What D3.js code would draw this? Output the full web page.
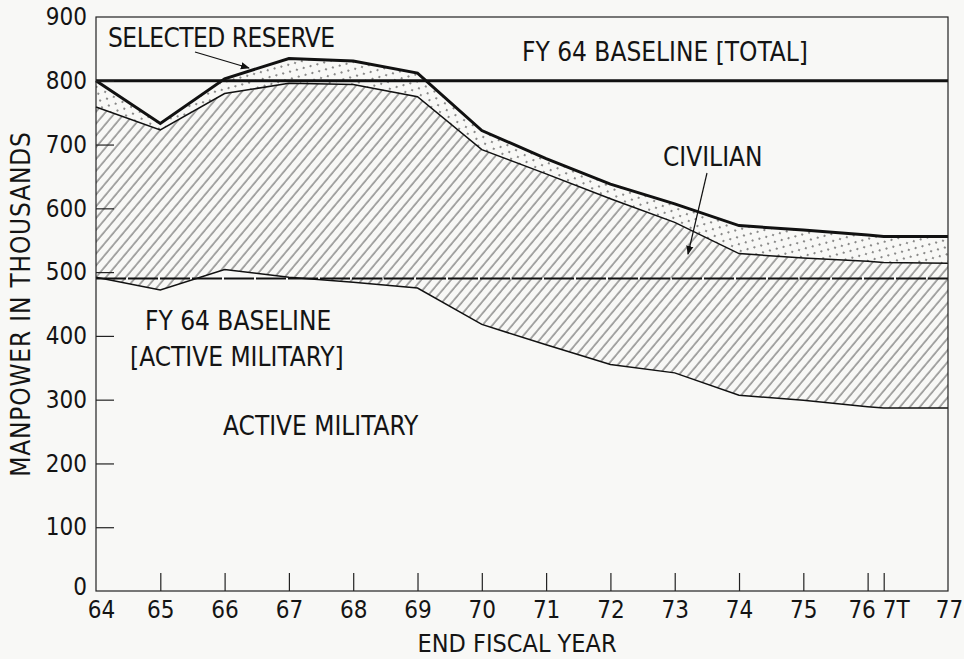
<!DOCTYPE html>
<html>
<head>
    <title>Manpower in Thousands, FY 64 - FY 77</title>
    <script src="https://d3js.org/d3.v7.min.js"></script>
    <style>
        body { margin: 0; background: #f8f8f6; }
        svg text {
            font-family: "DejaVu Sans Condensed", "DejaVu Sans", sans-serif;
            font-stretch: condensed;
            fill: #141414;
        }
        .axis text { font-size: 24px; }
        .axis line { stroke: #222; stroke-width: 1.2; }
        .note { font-size: 26px; }
    </style>
</head>
<body>
    <div id="chart"></div>
    <script>
        // end fiscal year positions (7T = transition quarter)
        var yearPos = [64, 65, 66, 67, 68, 69, 70, 71, 72, 73, 74, 75, 76, 76.25, 77.25];
        var yearLabels = ["64", "65", "66", "67", "68", "69", "70", "71", "72", "73", "74", "75", "76", "7T", "77"];

        // thousands
        var totalManpower = [800, 733, 803, 835, 831, 812, 722, 678, 638, 607, 573, 566, 558, 556, 556];
        var activePlusCivilian = [759, 723, 780, 796, 794, 775, 692, 654, 615, 578, 529, 522, 517, 515, 514];
        var activeMilitary = [492, 472, 504, 492, 484, 475, 418, 386, 355, 342, 307, 299, 289, 287, 287];

        var baselineTotal = 800;
        var baselineActive = 490;
        var yTicks = [0, 100, 200, 300, 400, 500, 600, 700, 800, 900];

        var width = 964, height = 659;

        var svg = d3.select("#chart").append("svg")
            .attr("width", width)
            .attr("height", height);

        var x = d3.scaleLinear().domain([64, 77.25]).range([96, 948]);
        var y = d3.scaleLinear().domain([0, 900]).range([591, 17]);

        var rows = yearPos.map(function(p, i) {
            return { x: p, total: totalManpower[i], civ: activePlusCivilian[i], act: activeMilitary[i] };
        });

        var defs = svg.append("defs");

        // diagonal hatch for civilian
        var hatch = defs.append("pattern")
            .attr("id", "hatch")
            .attr("patternUnits", "userSpaceOnUse")
            .attr("width", 7.6)
            .attr("height", 10)
            .attr("patternTransform", "rotate(40)");
        hatch.append("line")
            .attr("x1", 1).attr("y1", 0)
            .attr("x2", 1).attr("y2", 10)
            .attr("stroke", "#333")
            .attr("stroke-width", 0.85);

        // stipple for selected reserve
        var dots = defs.append("pattern")
            .attr("id", "dots")
            .attr("patternUnits", "userSpaceOnUse")
            .attr("width", 10)
            .attr("height", 10)
            .attr("patternTransform", "rotate(30)");
        dots.append("circle").attr("cx", 2).attr("cy", 2).attr("r", 0.9).attr("fill", "#555");
        dots.append("circle").attr("cx", 7).attr("cy", 7).attr("r", 0.9).attr("fill", "#555");

        defs.append("marker")
            .attr("id", "arrow")
            .attr("viewBox", "0 0 10 10")
            .attr("refX", 9).attr("refY", 5)
            .attr("markerWidth", 9).attr("markerHeight", 9)
            .attr("markerUnits", "userSpaceOnUse")
            .attr("orient", "auto")
            .append("path")
            .attr("d", "M0,1 L10,5 L0,9 Z")
            .attr("fill", "#111");

        // areas
        svg.append("path")
            .datum(rows)
            .attr("fill", "url(#dots)")
            .attr("d", d3.area()
                .x(function(d) { return x(d.x); })
                .y0(function(d) { return y(d.civ); })
                .y1(function(d) { return y(d.total); }));

        svg.append("path")
            .datum(rows)
            .attr("fill", "url(#hatch)")
            .attr("d", d3.area()
                .x(function(d) { return x(d.x); })
                .y0(function(d) { return y(d.act); })
                .y1(function(d) { return y(d.civ); }));

        // baselines
        svg.append("line")
            .attr("x1", x(64)).attr("x2", x(77.25))
            .attr("y1", y(baselineTotal)).attr("y2", y(baselineTotal))
            .attr("stroke", "#111").attr("stroke-width", 3);

        svg.append("line")
            .attr("x1", x(64)).attr("x2", x(77.25))
            .attr("y1", y(baselineActive)).attr("y2", y(baselineActive))
            .attr("stroke", "#111").attr("stroke-width", 2.2)
            .attr("stroke-dasharray", "30,2");

        // boundary lines
        function line(key) {
            return d3.line()
                .x(function(d) { return x(d.x); })
                .y(function(d) { return y(d[key]); });
        }

        svg.append("path").datum(rows)
            .attr("fill", "none").attr("stroke", "#111").attr("stroke-width", 3)
            .attr("d", line("total"));

        svg.append("path").datum(rows)
            .attr("fill", "none").attr("stroke", "#111").attr("stroke-width", 1.5)
            .attr("d", line("civ"));

        svg.append("path").datum(rows)
            .attr("fill", "none").attr("stroke", "#111").attr("stroke-width", 1.5)
            .attr("d", line("act"));

        // frame
        svg.append("rect")
            .attr("x", x(64)).attr("y", y(900))
            .attr("width", x(77.25) - x(64))
            .attr("height", y(0) - y(900))
            .attr("fill", "none")
            .attr("stroke", "#222")
            .attr("stroke-width", 1.2);

        // axes
        var yAxis = svg.append("g")
            .attr("class", "axis")
            .attr("transform", "translate(" + x(64) + ",0)")
            .call(d3.axisLeft(y).tickValues(yTicks).tickSizeInner(-18).tickSizeOuter(0).tickPadding(9));
        yAxis.select(".domain").remove();
        yAxis.selectAll(".tick line").filter(function(d) { return d === 0 || d === 900; }).remove();
        yAxis.selectAll(".tick text").filter(function(d) { return d === 0; }).attr("y", -4);

        var xAxis = svg.append("g")
            .attr("class", "axis")
            .attr("transform", "translate(0," + y(0) + ")")
            .call(d3.axisBottom(x).tickValues(yearPos).tickSizeInner(-18).tickSizeOuter(0).tickPadding(10)
                .tickFormat(function(d, i) { return yearLabels[i]; }));
        xAxis.select(".domain").remove();
        xAxis.selectAll(".tick line").filter(function(d) { return d === 64 || d === 77.25; }).remove();
        // labels crowded near the transition quarter and the corner
        var labelShift = { 64: 5, 76: -6, 76.25: 12, 77.25: 1 };
        xAxis.selectAll(".tick text")
            .attr("x", function(d) { return labelShift[d] || 0; });

        // axis titles
        svg.append("text")
            .attr("class", "note")
            .attr("x", 517).attr("y", 652)
            .attr("text-anchor", "middle")
            .style("font-size", "25px")
            .text("END FISCAL YEAR");

        svg.append("text")
            .attr("class", "note")
            .attr("transform", "translate(30,304) rotate(-90)")
            .attr("text-anchor", "middle")
            .style("letter-spacing", "0.8px")
            .text("MANPOWER IN THOUSANDS");

        // annotations
        svg.append("text").attr("class", "note").attr("x", 108).attr("y", 47)
            .style("letter-spacing", "-0.5px").text("SELECTED RESERVE");
        svg.append("line")
            .attr("x1", 195).attr("y1", 52).attr("x2", 249).attr("y2", 68)
            .attr("stroke", "#111").attr("stroke-width", 1.2)
            .attr("marker-end", "url(#arrow)");

        svg.append("text").attr("class", "note").attr("x", 522).attr("y", 61).text("FY 64 BASELINE [TOTAL]");

        svg.append("text").attr("class", "note").attr("x", 663).attr("y", 166).text("CIVILIAN");
        svg.append("line")
            .attr("x1", 707).attr("y1", 173).attr("x2", 688).attr("y2", 254)
            .attr("stroke", "#111").attr("stroke-width", 1.2)
            .attr("marker-end", "url(#arrow)");

        svg.append("text").attr("class", "note").attr("x", 145).attr("y", 330).text("FY 64 BASELINE");
        svg.append("text").attr("class", "note").attr("x", 130).attr("y", 366).text("[ACTIVE MILITARY]");
        svg.append("text").attr("class", "note").attr("x", 223).attr("y", 435).text("ACTIVE MILITARY");
    </script>
</body>
</html>
